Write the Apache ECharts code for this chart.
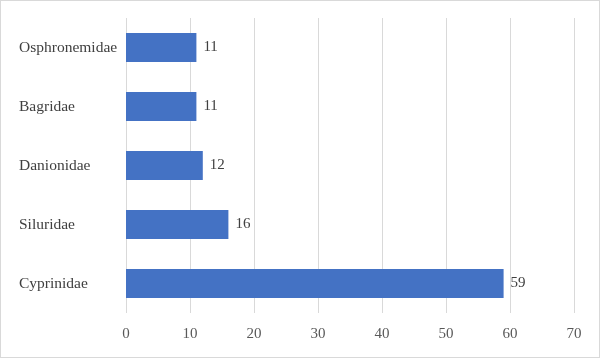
<!DOCTYPE html>
<html><head><meta charset="utf-8">
<script src="https://cdn.jsdelivr.net/npm/echarts@6/dist/echarts.min.js"></script>
<style>html,body{margin:0;padding:0;background:#fff}#c{width:600px;height:358px;box-sizing:border-box;border:1px solid #d9d9d9}</style>
</head><body><div id="c"></div>
<script>
const categories = ["Cyprinidae", "Siluridae", "Danionidae", "Bagridae", "Osphronemidae"];
const values = [59, 16, 12, 11, 11];
const xTicks = [0, 70, 10];
const font = '"Liberation Serif", "Times New Roman", serif';
const chart = echarts.init(document.getElementById('c'));
chart.setOption({
  animation: false,
  grid: {left: 125, right: 25, top: 17, bottom: 44},
  xAxis: {type: 'value', min: xTicks[0], max: xTicks[1], interval: xTicks[2],
    axisLine: {show: false}, axisTick: {show: false},
    splitLine: {lineStyle: {color: '#d9d9d9'}},
    axisLabel: {color: '#595959', fontFamily: font, fontSize: 15, margin: 14}},
  yAxis: {type: 'category', data: categories,
    axisLine: {show: false}, axisTick: {show: false},
    axisLabel: {color: '#404040', fontFamily: font, fontSize: 15.5, margin: 12, align: 'left', padding: [0,0,0,-95]}},
  series: [{type: 'bar', data: values, barWidth: '49%',
    itemStyle: {color: '#4472C4'},
    label: {show: true, position: 'right', distance: 7, color: '#404040', fontFamily: font, fontSize: 15}}]
});
</script></body></html>
